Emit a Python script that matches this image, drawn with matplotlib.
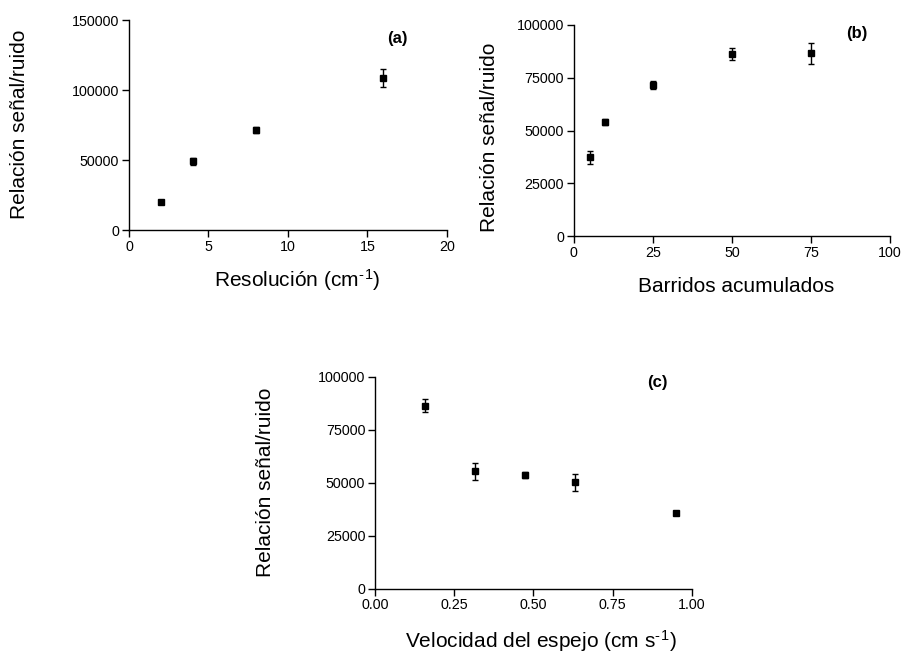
import matplotlib
matplotlib.use("Agg")
import matplotlib.pyplot as plt

plt.rcParams["font.family"] = ["Liberation Sans", "DejaVu Sans"]
plt.rcParams["mathtext.fontset"] = "custom"
plt.rcParams["mathtext.rm"] = "Liberation Sans"
plt.rcParams["mathtext.default"] = "regular"

# (a) signal-to-noise vs. resolution
res_x = [2, 4, 8, 16]
res_y = [20000, 49000, 71500, 108500]
res_err = [500, 2500, 2000, 6500]

# (b) signal-to-noise vs. accumulated scans
scans_x = [5, 10, 25, 50, 75]
scans_y = [37300, 54000, 71500, 86300, 86700]
scans_err = [3000, 1500, 2000, 3000, 5000]

# (c) signal-to-noise vs. mirror velocity
vel_x = [0.158, 0.316, 0.474, 0.633, 0.949]
vel_y = [86300, 55300, 53500, 50200, 35500]
vel_err = [3100, 4200, 1500, 3900, 500]

W, H = 904, 653
fig = plt.figure(figsize=(W / 100, H / 100), dpi=100)


def add_axes(left, right, top, bottom):
    return fig.add_axes([left / W, 1 - bottom / H, (right - left) / W, (bottom - top) / H])


def style(ax):
    for s in ("top", "right"):
        ax.spines[s].set_visible(False)
    for s in ("left", "bottom"):
        ax.spines[s].set_linewidth(1.0)
    ax.tick_params(direction="out", length=5, width=1.0, labelsize=10.3, pad=2)


def draw(ax, x, y, e):
    ax.errorbar(x, y, yerr=e, fmt="s", color="black", markersize=4.4,
                elinewidth=1.0, capsize=2.3, capthick=1.0, clip_on=False)


ylab = "Relación señal/ruido"
sup = "$^{\u2010\u200a1}$"

ax1 = add_axes(129, 447, 20, 230)
draw(ax1, res_x, res_y, res_err)
ax1.set_xlim(0, 20)
ax1.set_ylim(0, 150000)
ax1.set_xticks([0, 5, 10, 15, 20])
ax1.set_yticks([0, 50000, 100000, 150000])
style(ax1)
ax1.set_xlabel("Resolución (cm" + sup + ")", fontsize=15, va="center")
ax1.xaxis.set_label_coords(0.53, -0.24)
ax1.set_ylabel(ylab, fontsize=15, va="center")
ax1.yaxis.set_label_coords(-0.343, 0.505)
ax1.text(0.843, 0.91, "(a)", transform=ax1.transAxes, fontsize=12,
         fontweight="bold", ha="center", va="center")

ax2 = add_axes(573.7, 890, 25, 236)
draw(ax2, scans_x, scans_y, scans_err)
ax2.set_xlim(0, 100)
ax2.set_ylim(0, 100000)
ax2.set_xticks([0, 25, 50, 75, 100])
ax2.set_yticks([0, 25000, 50000, 75000, 100000])
style(ax2)
ax2.set_xlabel("Barridos acumulados", fontsize=15, va="center")
ax2.xaxis.set_label_coords(0.513, -0.237)
ax2.set_ylabel(ylab, fontsize=15, va="center")
ax2.yaxis.set_label_coords(-0.265, 0.47)
ax2.text(0.896, 0.962, "(b)", transform=ax2.transAxes, fontsize=12,
         fontweight="bold", ha="center", va="center")

ax3 = add_axes(375, 691.7, 376.7, 588.7)
draw(ax3, vel_x, vel_y, vel_err)
ax3.set_xlim(0, 1.0)
ax3.set_ylim(0, 100000)
ax3.set_xticks([0, 0.25, 0.5, 0.75, 1.0])
ax3.set_xticklabels(["0.00", "0.25", "0.50", "0.75", "1.00"])
ax3.set_yticks([0, 25000, 50000, 75000, 100000])
style(ax3)
ax3.set_xlabel("Velocidad del espejo (cm s" + sup + ")", fontsize=15, va="center")
ax3.xaxis.set_label_coords(0.524, -0.247)
ax3.set_ylabel(ylab, fontsize=15, va="center")
ax3.yaxis.set_label_coords(-0.347, 0.503)
ax3.text(0.892, 0.975, "(c)", transform=ax3.transAxes, fontsize=12,
         fontweight="bold", ha="center", va="center")

fig.savefig("out.png", dpi=100)
